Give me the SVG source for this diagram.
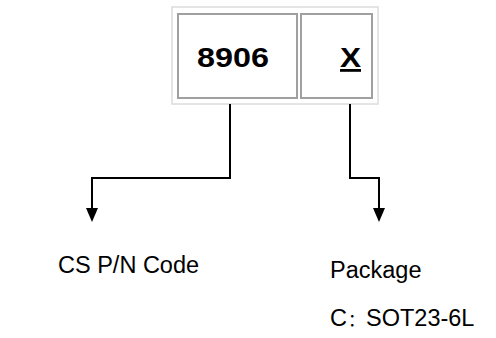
<svg xmlns="http://www.w3.org/2000/svg" width="496" height="338" viewBox="0 0 496 338">
<style>
.lbl{font-family:"Liberation Sans",Arial,"Noto Sans CJK SC",sans-serif;font-size:23.5px;fill:#000}
.colon{font-size:17px}
.big{font-family:"Liberation Sans",Arial,sans-serif;font-weight:bold;font-size:28px;fill:#000}
.cell{fill:#fff;stroke:#a0a0a0;stroke-width:2}
.wire{fill:none;stroke:#000;stroke-width:2;marker-end:url(#arr)}
</style>
<defs>
<marker id="arr" markerUnits="userSpaceOnUse" markerWidth="14" markerHeight="12" viewBox="0 0 14 12" refX="0" refY="6" orient="auto">
<path d="M0,0 L14,6 L0,12 z" fill="#000"/>
</marker>
</defs>
<rect width="496" height="338" fill="#fff"/>
<g id="frame"><rect x="172" y="7" width="206" height="97" fill="#fff" stroke="#dcdcdc" stroke-width="1.5"/></g>
<g id="code-cell"><rect class="cell" x="178" y="14" width="119" height="84"/><text class="big" x="233" y="67" text-anchor="middle" textLength="72" lengthAdjust="spacingAndGlyphs">8906</text></g>
<g id="pkg-cell"><rect class="cell" x="301" y="14" width="71" height="84"/><text class="big" x="350.5" y="67" text-anchor="middle" textLength="21" lengthAdjust="spacingAndGlyphs" text-decoration="underline">X</text></g>
<g id="connectors">
<path class="wire" d="M230,104 V178 H92 V208"/>
<path class="wire" d="M350,104 V178 H379 V208"/>
</g>
<g id="label-code"><text class="lbl" x="58" y="273">CS P/N Code</text></g>
<g id="label-pkg"><text class="lbl" x="330" y="278">Package</text><text class="lbl" x="330" y="326">C<tspan class="colon" x="348">：</tspan><tspan x="366">SOT23-6L</tspan></text></g>
</svg>
